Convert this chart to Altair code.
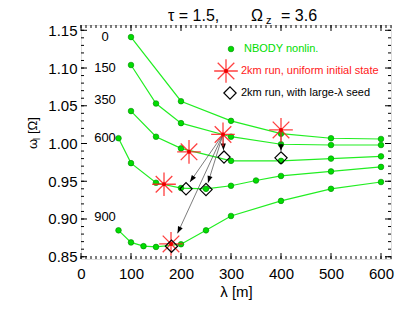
import math
import altair as alt
import pandas as pd

# ---------------- data ----------------
series_names = ["0", "150", "350", "600", "900"]
lam_0 = [100, 200, 300, 400, 500, 600]
om_0 = [1.141, 1.056, 1.030, 1.013, 1.007, 1.006]
lam_150 = [100, 150, 200, 300, 400, 500, 600]
om_150 = [1.104, 1.053, 1.027, 1.009, 0.999, 0.998, 0.998]
lam_350 = [100, 150, 200, 300, 400, 500, 600]
om_350 = [1.043, 1.009, 0.9935, 0.977, 0.977, 0.980, 0.983]
lam_600 = [75, 100, 150, 200, 250, 300, 350, 400, 500, 600]
om_600 = [1.007, 0.974, 0.948, 0.941, 0.940, 0.944, 0.951, 0.957, 0.963, 0.969]
lam_900 = [75, 100, 125, 150, 200, 250, 300, 400, 500, 600]
om_900 = [0.885, 0.869, 0.864, 0.863, 0.8665, 0.885, 0.904, 0.924, 0.940, 0.949]

label_lam = [48, 48, 48, 48, 48]
label_om = [1.141, 1.100, 1.057, 1.007, 0.903]

star_lam = [284, 400, 216, 166, 180]
star_om = [1.012, 1.018, 0.989, 0.946, 0.867]
dia_lam = [286, 400, 210, 250, 181]
dia_om = [0.982, 0.981, 0.940, 0.939, 0.864]

arrow_from_lam = [284, 284, 284, 284, 400]
arrow_from_om = [1.012, 1.012, 1.012, 1.012, 1.018]
arrow_to_lam = [285, 218, 254, 193, 400]
arrow_to_om = [0.991, 0.949, 0.948, 0.881, 0.990]

x_major = [0, 100, 200, 300, 400, 500, 600]
x_minor = list(range(0, 621, 10))
y_major = [0.85, 0.90, 0.95, 1.00, 1.05, 1.10, 1.15]
y_minor = [round(0.85 + 0.01 * i, 2) for i in range(31)]

X_DOM = [0, 620]
Y_DOM = [0.847, 1.157]
W, H = 310, 234
FONT = "Liberation Sans"
GREEN_LINE = "#22ee22"
GREEN_DOT = "#00dd00"
RED = "#ff2020"

# ---------------- tables ----------------
rows = []
for name, ls, os_ in zip(series_names, [lam_0, lam_150, lam_350, lam_600, lam_900],
                         [om_0, om_150, om_350, om_600, om_900]):
    for i, (l, o) in enumerate(zip(ls, os_)):
        rows.append({"series": name, "lam": l, "om": o, "i": i})
df_lines = pd.DataFrame(rows)
df_labels = pd.DataFrame({"lam": label_lam, "om": label_om, "t": series_names})
df_star = pd.DataFrame({"lam": star_lam, "om": star_om})
df_dia = pd.DataFrame({"lam": dia_lam, "om": dia_om})

px_per_lam = W / (X_DOM[1] - X_DOM[0])
px_per_om = H / (Y_DOM[1] - Y_DOM[0])
angles = []
for fl, fo, tl, to in zip(arrow_from_lam, arrow_from_om, arrow_to_lam, arrow_to_om):
    dx = (tl - fl) * px_per_lam
    dy = -(to - fo) * px_per_om
    angles.append(math.degrees(math.atan2(dx, -dy)) % 360)
df_arrow = pd.DataFrame({"fl": arrow_from_lam, "fo": arrow_from_om,
                         "tl": arrow_to_lam, "to": arrow_to_om, "ang": angles})

xs = alt.Scale(domain=X_DOM, nice=False, zero=False)
ys = alt.Scale(domain=Y_DOM, nice=False, zero=False)
xaxis = alt.Axis(values=x_major, format="d", ticks=False, domain=False, grid=False,
                 labelFontSize=15, labelPadding=7, labelFont=FONT, labelColor="black",
                 labelFlush=False, title="λ [m]", titleFontSize=15, titleFont=FONT,
                 titleFontWeight="normal", titleColor="black", titlePadding=3)
yaxis = alt.Axis(values=y_major, format=".2f", ticks=False, domain=False, grid=False,
                 labelFontSize=15, labelPadding=4, labelFont=FONT, labelColor="black",
                 labelFlush=False, title=None)


def X(f):
    return alt.X(f, type="quantitative", scale=xs, axis=xaxis)


def Y(f):
    return alt.Y(f, type="quantitative", scale=ys, axis=yaxis)


lines = alt.Chart(df_lines).mark_line(color=GREEN_LINE, strokeWidth=1.2).encode(
    x=X("lam"), y=Y("om"), detail="series:N", order="i:Q")
dots = alt.Chart(df_lines).mark_point(shape="circle", filled=True, size=32, fill=GREEN_DOT,
                                      stroke="#008800", strokeWidth=0.6, opacity=1).encode(
    x=X("lam"), y=Y("om"))
labels = alt.Chart(df_labels).mark_text(font=FONT, fontSize=13, color="black",
                                        align="center", baseline="middle").encode(
    x=X("lam"), y=Y("om"), text="t:N")

arrow_lines = alt.Chart(df_arrow).mark_rule(color="#444444", strokeWidth=0.7).encode(
    x=X("fl"), x2="tl", y=Y("fo"), y2="to")
arrow_heads = alt.Chart(df_arrow).mark_point(
    shape="M0,0L-0.45,1.2L0.45,1.2Z", filled=True, size=130, color="black", opacity=1).encode(
    x=X("tl"), y=Y("to"), angle=alt.Angle("ang:Q", scale=None))

STAR = "M-1,0L1,0M0,-1L0,1M-0.7,-0.7L0.7,0.7M-0.7,0.7L0.7,-0.7"
stars = alt.Chart(df_star).mark_point(shape=STAR, filled=False, size=560, stroke=RED,
                                      strokeWidth=1.3, opacity=0.85).encode(
    x=X("lam"), y=Y("om"))
star_c = alt.Chart(df_star).mark_point(shape="circle", filled=True, size=16, color="#ee0000",
                                       opacity=1).encode(x=X("lam"), y=Y("om"))
dias = alt.Chart(df_dia).mark_point(shape="diamond", filled=False, size=150, stroke="black",
                                    strokeWidth=1.2, opacity=1).encode(
    x=X("lam"), y=Y("om"))

# ticks (inward, all four sides)
df_xmaj = pd.DataFrame({"v": x_major})
df_xmin = pd.DataFrame({"v": x_minor})
df_ymaj = pd.DataFrame({"v": y_major})
df_ymin = pd.DataFrame({"v": y_minor})
tick_layers = []
for d, ln in [(df_xmaj, 6), (df_xmin, 3)]:
    tick_layers.append(alt.Chart(d).mark_rule(color="black", strokeWidth=1).encode(
        x=X("v"), y=alt.value(H), y2=alt.value(H - ln)))
    tick_layers.append(alt.Chart(d).mark_rule(color="black", strokeWidth=1).encode(
        x=X("v"), y=alt.value(0), y2=alt.value(ln)))
for d, ln in [(df_ymaj, 6), (df_ymin, 3)]:
    tick_layers.append(alt.Chart(d).mark_rule(color="black", strokeWidth=1).encode(
        y=Y("v"), x=alt.value(0), x2=alt.value(ln)))
    tick_layers.append(alt.Chart(d).mark_rule(color="black", strokeWidth=1).encode(
        y=Y("v"), x=alt.value(W), x2=alt.value(W - ln)))

# legend
one = pd.DataFrame({"a": [0]})


def txt(text, x, y, size, color="black", align="left", baseline="middle", angle=0):
    mk = alt.Chart(one).mark_text(text=text, font=FONT, fontSize=size, color=color,
                                  align=align, baseline=baseline, angle=angle)
    return mk.encode(x=alt.value(x), y=alt.value(y))


leg = [
    alt.Chart(one).mark_point(shape="circle", filled=True, size=32, fill=GREEN_DOT,
                              stroke="#008800", strokeWidth=0.6, opacity=1).encode(
        x=alt.value(150), y=alt.value(24)),
    txt("NBODY nonlin.", 163, 24, 11, "#00dd00"),
    alt.Chart(one).mark_point(shape=STAR, filled=False, size=560, stroke=RED,
                              strokeWidth=1.3, opacity=0.85).encode(
        x=alt.value(145), y=alt.value(46)),
    alt.Chart(one).mark_point(shape="circle", filled=True, size=16, color="#ee0000",
                              opacity=1).encode(x=alt.value(145), y=alt.value(46)),
    txt("2km run, uniform initial state", 160, 46, 11, RED),
    alt.Chart(one).mark_point(shape="diamond", filled=False, size=150, stroke="black",
                              strokeWidth=1.2, opacity=1).encode(
        x=alt.value(149), y=alt.value(68)),
    txt("2km run, with large-λ seed", 160, 68, 11),
]

# title pieces
title = [
    txt("τ = 1.5,", 87, -4, 16, baseline="alphabetic"),
    txt("Ω", 170, -4, 16, baseline="alphabetic"),
    txt("z", 185, -1, 11, baseline="alphabetic"),
    txt("= 3.6", 200, -4, 16, baseline="alphabetic"),
]

# y-axis title pieces (rotated)
ytitle = [
    txt("ω", -48, 124, 13, angle=270),
    txt("l", -44, 115, 9, angle=270),
    txt("[Ω]", -48, 109, 13, angle=270),
]

chart = alt.layer(
    lines, dots, arrow_lines, arrow_heads, stars, star_c, dias, labels,
    *tick_layers, *leg, *title, *ytitle
).properties(
    width=W, height=H,
    autosize=alt.AutoSizeParams(type="none"),
    padding={"left": 73, "top": 17, "right": 16, "bottom": 45},
).configure_view(stroke="black", strokeWidth=1).configure(font=FONT, background="white")

chart.save("out.html", embed_options={"renderer": "svg", "actions": False})
